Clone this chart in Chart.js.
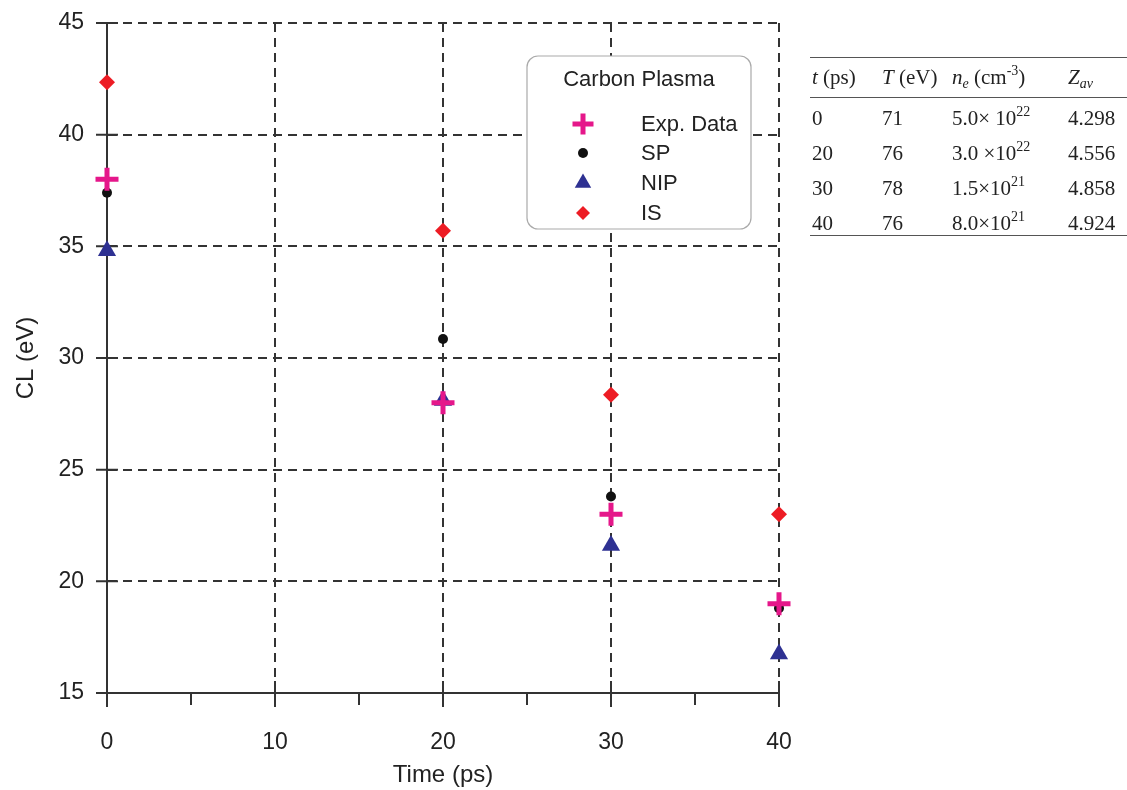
<!DOCTYPE html>
<html>
<head>
<meta charset="utf-8">
<title>Carbon Plasma CL</title>
<script src="https://cdn.jsdelivr.net/npm/chart.js@4.4.1/dist/chart.umd.min.js"></script>
<style>
  html, body { margin: 0; padding: 0; background: #fff; }
  #wrap { position: relative; width: 1127px; height: 790px; overflow: hidden; }
  #plot { position: absolute; left: 0; top: 0; }
  #params {
    position: absolute; left: 810px; top: 57px; width: 330px;
    border-collapse: collapse;
    font-family: "Liberation Serif", "DejaVu Serif", serif;
    font-size: 21px; color: #222;
    border-top: 1.5px solid #555; border-bottom: 1.5px solid #555;
  }
  #params th, #params td { text-align: left; padding: 0 0 0 2px; white-space: nowrap; font-weight: normal; }
  #params thead tr { height: 40px; border-bottom: 1.5px solid #555; }
  #params tbody td { vertical-align: top; padding-top: 8px; height: 27px; line-height: 24px; }
  #params tbody tr:last-child td { height: 24px; }
  #params sup { font-size: 14px; vertical-align: 9px; line-height: 0; }
  #params sub { font-size: 14px; vertical-align: -4px; line-height: 0; }
  #params i { font-style: italic; }
</style>
</head>
<body>
<div id="wrap">
  <canvas id="plot" width="1127" height="790"></canvas>
  <table id="params">
    <colgroup><col style="width:70px"><col style="width:70px"><col style="width:116px"><col></colgroup>
    <thead>
      <tr>
        <th><i>t</i> (ps)</th>
        <th><i>T</i> (eV)</th>
        <th><i>n<sub>e</sub></i> (cm<sup>-3</sup>)</th>
        <th><i>Z<sub>av</sub></i></th>
      </tr>
    </thead>
    <tbody id="params-body"></tbody>
  </table>
</div>
<script>
// --- data ---
const timesPs = [0, 20, 30, 40];
const expData = [38.0, 28.0, 23.0, 19.0];
const spData  = [37.4, 30.85, 23.8, 18.8];
const nipData = [34.8, 28.1, 21.6, 16.75];
const isData  = [42.35, 35.7, 28.35, 23.0];

const xTickValues = [0, 10, 20, 30, 40];
const yTickValues = [15, 20, 25, 30, 35, 40, 45];

// plasma parameters table
const tableTime    = ['0', '20', '30', '40'];
const tableTemp    = ['71', '76', '78', '76'];
const tableDensity = ['5.0× 10', '3.0 ×10', '1.5×10', '8.0×10'];
const tableDensExp = ['22', '22', '21', '21'];
const tableZav     = ['4.298', '4.556', '4.858', '4.924'];

const body = document.getElementById('params-body');
tableTime.forEach((t, i) => {
  const tr = document.createElement('tr');
  tr.innerHTML = `<td>${t}</td><td>${tableTemp[i]}</td>` +
    `<td>${tableDensity[i]}<sup>${tableDensExp[i]}</sup></td><td>${tableZav[i]}</td>`;
  body.appendChild(tr);
});

const AXIS = '#333';
const FONT = '"Liberation Sans", Arial, sans-serif';

const toPoints = (vals) => vals.map((v, i) => ({ x: timesPs[i], y: v }));

const series = [
  { label: 'Exp. Data', data: expData, style: 'cross',    color: '#e5178a', radius: 11.5, border: 5 },
  { label: 'SP',        data: spData,  style: 'circle',   color: '#111111', radius: 5,    border: 0 },
  { label: 'NIP',       data: nipData, style: 'triangle', color: '#2e3192', radius: 10.5, border: 0 },
  { label: 'IS',        data: isData,  style: 'rectRot',  color: '#ed1c24', radius: 8,    border: 0 }
];

// tick marks: major ticks cross the axis, minor x ticks point outward
const axisTicks = {
  id: 'axisTicks',
  beforeDatasetsDraw(chart) {
    const { ctx, scales: { x, y }, chartArea: a } = chart;
    ctx.save();
    ctx.strokeStyle = AXIS;
    ctx.lineWidth = 2;
    ctx.beginPath();
    for (let v = 0; v <= 40; v += 5) {
      const px = x.getPixelForValue(v);
      if (v % 10 === 0) {
        ctx.moveTo(px, a.bottom - 12);
        ctx.lineTo(px, a.bottom + 14);
      } else {
        ctx.moveTo(px, a.bottom);
        ctx.lineTo(px, a.bottom + 12);
      }
    }
    yTickValues.forEach(v => {
      const py = y.getPixelForValue(v);
      ctx.moveTo(a.left - 11, py);
      ctx.lineTo(a.left + 11, py);
    });
    ctx.stroke();
    ctx.restore();
  }
};

// boxed legend with title, drawn over the grid
const boxLegend = {
  id: 'boxLegend',
  afterDraw(chart) {
    const { ctx } = chart;
    const bx = 527, by = 56, bw = 224, bh = 173;
    ctx.save();
    ctx.beginPath();
    ctx.roundRect(bx, by, bw, bh, 11);
    ctx.fillStyle = '#fff';
    ctx.fill();
    ctx.lineWidth = 1.2;
    ctx.strokeStyle = '#aaa';
    ctx.stroke();

    ctx.fillStyle = '#222';
    ctx.font = '22px ' + FONT;
    ctx.textAlign = 'center';
    ctx.textBaseline = 'middle';
    ctx.fillText('Carbon Plasma', bx + bw / 2, 80);

    const rows = [124, 153, 183, 213];
    const legendSize = [10.5, 5, 9.5, 7];
    ctx.textAlign = 'left';
    chart.data.datasets.forEach((ds, i) => {
      const s = series[i];
      ctx.fillStyle = s.color;
      ctx.strokeStyle = s.color;
      ctx.lineWidth = s.border;
      Chart.helpers.drawPoint(ctx, {
        pointStyle: s.style, radius: legendSize[i], rotation: 0, borderWidth: s.border
      }, 583, rows[i]);
      ctx.fillStyle = '#222';
      ctx.fillText(ds.label, 641, rows[i] + 1);
    });
    ctx.restore();
  }
};

new Chart(document.getElementById('plot'), {
  type: 'scatter',
  data: {
    datasets: series.map(s => ({
      label: s.label,
      data: toPoints(s.data),
      pointStyle: s.style,
      pointRadius: s.radius,
      pointHoverRadius: s.radius,
      borderWidth: s.border,
      pointBorderWidth: s.border,
      backgroundColor: s.color,
      borderColor: s.color,
      showLine: false,
      clip: false
    }))
  },
  options: {
    responsive: false,
    animation: false,
    layout: { padding: { top: 23, right: 348, left: 0, bottom: 0 } },
    plugins: {
      legend: { display: false },
      tooltip: { enabled: false }
    },
    scales: {
      x: {
        type: 'linear',
        min: 0, max: 40,
        afterFit: (s) => { s.height = 97; },
        afterBuildTicks: (s) => { s.ticks = xTickValues.map(v => ({ value: v })); },
        ticks: { color: '#222', font: { family: FONT, size: 23 }, padding: 36, maxRotation: 0 },
        grid: {
          drawTicks: false,
          lineWidth: 2,
          color: (c) => (c.tick && c.tick.value === 0 ? 'rgba(0,0,0,0)' : AXIS)
        },
        border: { display: true, color: AXIS, width: 2, dash: [9, 6] },
        title: {
          display: true, text: 'Time (ps)', color: '#222',
          font: { family: FONT, size: 24 }, padding: { top: 0, bottom: 0 }
        }
      },
      y: {
        type: 'linear',
        min: 15, max: 45,
        // fixed axis width; label overhang is covered by the layout padding
        afterFit: (s) => { s.width = 107; s.paddingTop = 0; s.paddingBottom = 0; },
        afterBuildTicks: (s) => { s.ticks = yTickValues.map(v => ({ value: v })); },
        ticks: { color: '#222', font: { family: FONT, size: 23 }, padding: 23 },
        grid: {
          drawTicks: false,
          lineWidth: 2,
          color: (c) => (c.tick && c.tick.value === 15 ? 'rgba(0,0,0,0)' : AXIS)
        },
        border: { display: true, color: AXIS, width: 2, dash: [9, 6] },
        title: {
          display: true, text: 'CL (eV)', color: '#222',
          font: { family: FONT, size: 24 }, padding: { top: 12, bottom: 0 }
        }
      }
    }
  },
  plugins: [axisTicks, boxLegend]
});
</script>
</body>
</html>
